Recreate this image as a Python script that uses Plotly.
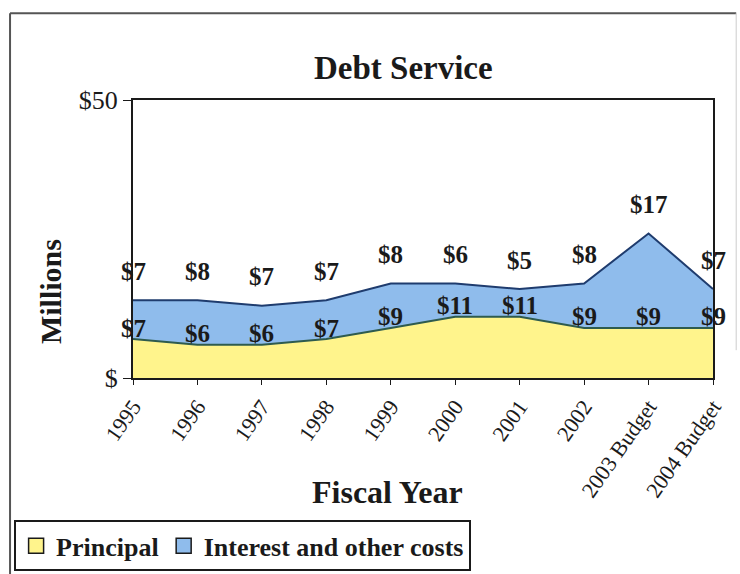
import plotly.graph_objects as go

# Fiscal years and debt service components, in millions of dollars
years = ["1995", "1996", "1997", "1998", "1999", "2000", "2001", "2002",
         "2003 Budget", "2004 Budget"]
principal = [7, 6, 6, 7, 9, 11, 11, 9, 9, 9]
interest = [7, 8, 7, 7, 8, 6, 5, 8, 17, 7]

y_tick_vals = [0, 50]
y_tick_text = ["$", "$50"]

SERIF = "Liberation Serif, Times New Roman, serif"
YELLOW = "#FFF48C"
BLUE = "#8FBCEC"
INK = "#1a1a1a"

x = list(range(len(years)))

fig = go.Figure()

fig.add_trace(go.Scatter(
    x=x, y=principal, stackgroup="debt", mode="lines",
    line=dict(color="#2E5B4E", width=2), fillcolor=YELLOW,
    name="Principal", showlegend=False, hoverinfo="skip",
))
fig.add_trace(go.Scatter(
    x=x, y=interest, stackgroup="debt", mode="lines",
    line=dict(color="#1F3C6E", width=2), fillcolor=BLUE,
    name="Interest and other costs", showlegend=False, hoverinfo="skip",
))

# legend swatches
fig.add_trace(go.Scatter(
    x=[None], y=[None], mode="markers", name="<b>Principal</b>",
    marker=dict(symbol="square", size=15, color=YELLOW,
                line=dict(color=INK, width=1.5)),
))
fig.add_trace(go.Scatter(
    x=[None], y=[None], mode="markers", name="<b>Interest and other costs</b>",
    marker=dict(symbol="square", size=15, color=BLUE,
                line=dict(color=INK, width=1.5)),
))

label_font = dict(family=SERIF, size=25, color=INK)
for i in x:
    total = principal[i] + interest[i]
    fig.add_annotation(x=i, y=principal[i], text=f"<b>${principal[i]}</b>",
                       showarrow=False, yshift=11, font=label_font)
    fig.add_annotation(x=i, y=total, text=f"<b>${interest[i]}</b>",
                       showarrow=False, yshift=29, font=label_font)

# axis titles
fig.add_annotation(xref="paper", yref="paper", x=-0.141, y=0.31,
                   xanchor="center", yanchor="middle",
                   text="<b>Millions</b>", textangle=-90, showarrow=False,
                   font=dict(family=SERIF, size=30, color=INK))
fig.add_annotation(xref="paper", yref="paper", x=0.439, y=-0.41,
                   xanchor="center", yanchor="middle",
                   text="<b>Fiscal Year</b>", showarrow=False,
                   font=dict(family=SERIF, size=32, color=INK))

# outer frame
frame = dict(color="#555555", width=2)
fig.add_shape(type="line", xref="paper", yref="paper",
              x0=-0.212, x1=1.04, y0=1.312, y1=1.312, line=frame)
fig.add_shape(type="line", xref="paper", yref="paper",
              x0=-0.212, x1=-0.212, y0=1.312, y1=-0.71, line=frame)
fig.add_shape(type="line", xref="paper", yref="paper",
              x0=1.04, x1=1.04, y0=1.312, y1=0.1,
              line=dict(color="#cccccc", width=1))

fig.update_layout(
    width=740, height=574,
    margin=dict(l=133, r=27, t=100, b=196, autoexpand=False),
    paper_bgcolor="white", plot_bgcolor="white",
    title=dict(text="<b>Debt Service</b>", x=0.545, xanchor="center",
               y=0.882, yanchor="middle",
               font=dict(family=SERIF, size=33, color=INK)),
    showlegend=True,
    legend=dict(orientation="h", x=-0.205, y=-0.512, xanchor="left",
                yanchor="top", bordercolor=INK, borderwidth=2,
                bgcolor="white", itemwidth=30, traceorder="normal",
                font=dict(family=SERIF, size=26, color=INK)),
    xaxis=dict(range=[0, len(years) - 1], tickvals=x, ticktext=years,
               tickangle=-55, ticks="outside", ticklen=5, tickcolor=INK,
               showline=True, linecolor=INK, linewidth=2, mirror=True,
               showgrid=False, zeroline=False, automargin=False,
               tickfont=dict(family=SERIF, size=22, color=INK)),
    yaxis=dict(range=[0, 50], tickvals=y_tick_vals, ticktext=y_tick_text,
               ticks="outside", ticklen=8, tickcolor=INK,
               showline=True, linecolor=INK, linewidth=2, mirror=True,
               showgrid=False, zeroline=False, automargin=False,
               tickfont=dict(family=SERIF, size=26, color=INK)),
)

fig.write_html("out.html")
